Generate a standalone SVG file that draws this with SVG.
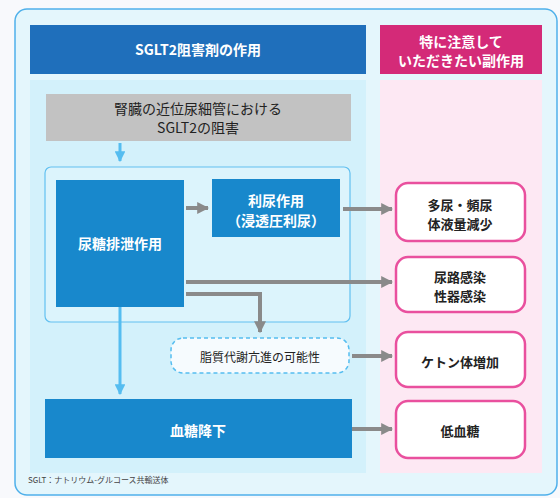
<svg xmlns="http://www.w3.org/2000/svg" width="560" height="498" viewBox="0 0 560 498">
<style>
text{font-family:"Noto Sans CJK JP","Noto Sans",sans-serif;text-anchor:middle;dominant-baseline:central}
.w{fill:#ffffff;font-weight:700;font-size:14px}
.d{fill:#222222;font-size:14px}
.pk{fill:#222222;font-weight:700;font-size:13px}
.bb{fill:#1888cc}
.pb{fill:#ffffff;stroke:#e9509e;stroke-width:2.5}
.ga{stroke:#8a8a8a;stroke-width:4;fill:none}
.ba{stroke:#55bdf0;stroke-width:3;fill:none}
</style>
<defs>
<marker id="ag" viewBox="0 0 10 10" refX="9" refY="5" markerWidth="3" markerHeight="3" orient="auto" markerUnits="strokeWidth"><path d="M0,0L10,5L0,10Z" fill="#8a8a8a"/></marker>
<marker id="ab" viewBox="0 0 10 10" refX="9" refY="5" markerWidth="3.6" markerHeight="3.6" orient="auto" markerUnits="strokeWidth"><path d="M0,0L10,5L0,10Z" fill="#55bdf0"/></marker>
</defs>
<rect width="560" height="498" fill="#f8f9fc"/>
<rect x="15" y="9" width="542" height="486" rx="12" fill="#e4f6fc" stroke="#4fb0ea" stroke-width="1.5"/>
<rect x="30" y="80" width="336" height="393" fill="#d3f1fb"/>
<rect x="380" y="80" width="162" height="393" fill="#fde8f3"/>
<g id="header-left">
<rect x="30" y="25" width="336" height="49" fill="#1f6fbb"/>
<text class="w" x="198" y="49" font-size="14.5">SGLT2阻害剤の作用</text>
</g>
<g id="header-right">
<rect x="380" y="25" width="162" height="49" fill="#d42a78"/>
<text class="w" x="461" y="41">特に注意して</text>
<text class="w" x="461" y="60">いただきたい副作用</text>
</g>
<g id="inhibit">
<rect x="46" y="94" width="305" height="47" fill="#c2c2c2"/>
<text class="d" x="198" y="108">腎臓の近位尿細管における</text>
<text class="d" x="198" y="127">SGLT2の阻害</text>
</g>
<rect id="group-box" x="45" y="167" width="305" height="155" rx="6" fill="#dcf4fc" stroke="#62c0f0" stroke-width="1.2"/>
<g id="connectors">
<line class="ba" x1="120" y1="143" x2="120" y2="161" marker-end="url(#ab)"/>
<line class="ba" x1="120" y1="307" x2="120" y2="394" marker-end="url(#ab)"/>
<line class="ga" x1="186" y1="208" x2="208" y2="208" marker-end="url(#ag)"/>
<line class="ga" x1="343" y1="209" x2="392" y2="209" marker-end="url(#ag)"/>
<line class="ga" x1="186" y1="282" x2="392" y2="282" marker-end="url(#ag)"/>
<polyline class="ga" points="186,294 260,294 260,332" marker-end="url(#ag)"/>
<line class="ga" x1="352" y1="356" x2="392" y2="356" marker-end="url(#ag)"/>
<line class="ga" x1="352" y1="429" x2="392" y2="429" marker-end="url(#ag)"/>
</g>
<g id="glucosuria">
<rect class="bb" x="56" y="180" width="128" height="127"/>
<text class="w" x="120" y="243">尿糖排泄作用</text>
</g>
<g id="diuresis">
<rect class="bb" x="212" y="179" width="128" height="58"/>
<text class="w" x="276" y="200">利尿作用</text>
<text class="w" x="276" y="220">（浸透圧利尿）</text>
</g>
<g id="lipid">
<rect x="171" y="338" width="178" height="35" rx="12" fill="#f6fbfe" stroke="#55bdf0" stroke-width="1.5" stroke-dasharray="4,3"/>
<text x="260" y="356" font-size="12" fill="#222222">脂質代謝亢進の可能性</text>
</g>
<g id="glucose-lowering">
<rect class="bb" x="45" y="399" width="307" height="59"/>
<text class="w" x="198" y="430">血糖降下</text>
</g>
<g id="se-polyuria">
<rect class="pb" x="396" y="183" width="129" height="58" rx="12"/>
<text class="pk" x="460" y="204">多尿・頻尿</text>
<text class="pk" x="460" y="223">体液量減少</text>
</g>
<g id="se-infection">
<rect class="pb" x="396" y="257" width="129" height="55" rx="12"/>
<text class="pk" x="460" y="276">尿路感染</text>
<text class="pk" x="460" y="295">性器感染</text>
</g>
<g id="se-ketone">
<rect class="pb" x="396" y="332" width="129" height="55" rx="12"/>
<text class="pk" x="460" y="361">ケトン体増加</text>
</g>
<g id="se-hypo">
<rect class="pb" x="396" y="401" width="129" height="57" rx="12"/>
<text class="pk" x="460" y="430">低血糖</text>
</g>
<text x="28" y="479" font-size="8" fill="#444444" style="text-anchor:start">SGLT：ナトリウム-グルコース共輸送体</text>
</svg>
